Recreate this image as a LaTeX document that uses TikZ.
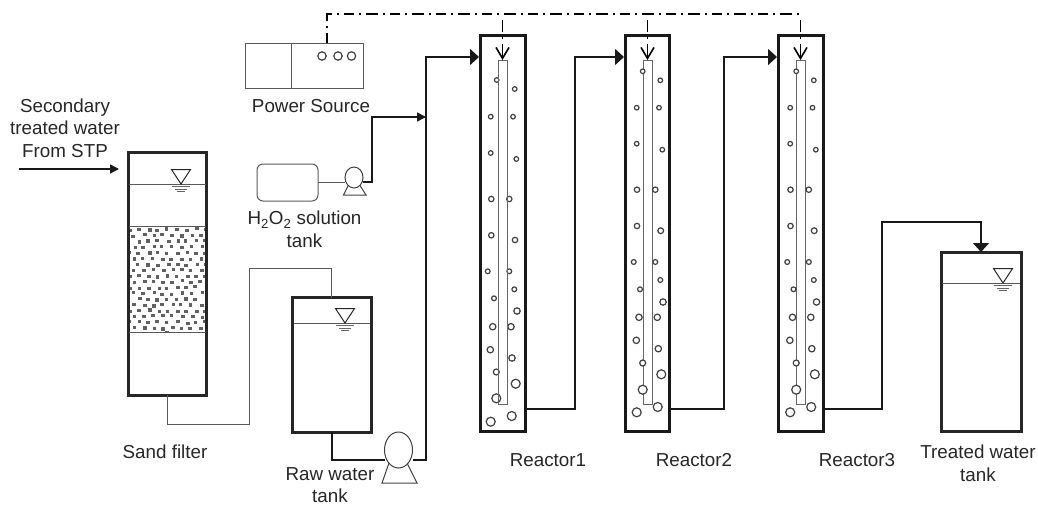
\documentclass[tikz,border=0pt]{standalone}
\usepackage{fontspec}
\setmainfont{Liberation Sans}
\usetikzlibrary{arrows.meta,shapes.geometric}

% bubble offsets shared by reactor 2 and reactor 3
\newcommand{\bubblelist}{642.7/71.3/2.3, 660.3/80.3/2.3, 636.7/107.7/2.3, 659/107.7/2.3, 636.7/143.7/2.3,
    662.3/149.7/2.3, 637/189.7/2.7, 655.3/189.7/2.7, 637/226/2.7, 660.7/230.7/2.9, 633.7/262/2.4,
    655.3/262/2.4, 660.3/280/2.4, 640/289.3/2.4, 663/302/3.2, 639/317.3/3.2, 657.3/317.3/3.2, 636.3/340.3/3.2,
    658.3/348.7/3.2, 642.7/363/3, 661.3/374.3/4.5, 642.7/389.7/4.5, 657.7/407/4.5, 636.7/412.3/4.5}

\begin{document}
\begin{tikzpicture}[
    x=1pt, y=-1pt,
    tank/.style={draw=black!85, rectangle, line width=3pt, minimum width=#1, inner sep=0pt, outer sep=0pt},
    reactor/.style={draw=black!90, rectangle, line width=3pt, minimum width=44.5pt, minimum height=396pt, inner sep=0pt, outer sep=0pt},
    tube/.style={draw=black!60, fill=white, rectangle, line width=1pt, minimum width=9pt, minimum height=344pt, inner sep=0pt, outer sep=0pt},
    thin-box/.style={draw=black!65, rectangle, line width=1pt, inner sep=0pt, outer sep=0pt},
    pump-body/.style={draw=black!75, fill=white, ellipse, line width=1pt, inner sep=0pt, outer sep=0pt},
    pipe/.style={draw=black!90, line width=1.5pt},
    thin-pipe/.style={draw=black!65, line width=1pt},
    feed/.style={pipe, -{Triangle[length=9pt,width=9pt]}},
    inlet/.style={pipe, -{Triangle[length=9pt,width=16pt]}},
    control/.style={draw=black, line width=1.4pt, dash pattern=on 10pt off 5pt on 2pt off 5pt on 12pt off 5pt on 2pt off 5pt},
    control-drop/.style={draw=black, line width=1.6pt, dash pattern=on 0pt off 6pt on 12pt off 5pt on 2pt off 5pt on 20pt off 20pt, -{Straight Barb[length=11pt,width=13pt]}},
    bubble/.style={draw=black!75, line width=1.2pt},
    label/.style={font=\fontsize{18.8}{22.6}\selectfont, text=black!85, align=center, inner sep=0pt}
]
\useasboundingbox (0,0) rectangle (1038,506);

% --- Sand filter ---
\begin{scope}
    \clip (129,226) rectangle (206,332);
    \foreach \row in {0,...,18} {
        \foreach \col in {0,...,8} {
            \pgfmathsetmacro{\px}{126+9.6*\col+4.8*mod(\row,2)+rnd*3}
            \pgfmathsetmacro{\py}{227+5.8*\row+rnd*2}
            \fill[black!62] (\px,\py) rectangle +(3.6,3.2);
        }
    }
\end{scope}
\node[tank=78pt, minimum height=242.5pt] (sand) at (167.5,273.75) {};
\draw[thin-pipe] (129,226) -- (206,226);
\draw[thin-pipe] (129,332) -- (206,332);

% --- Raw water tank ---
\node[tank=78.5pt, minimum height=134.5pt] (raw) at (331.75,364.75) {};

% --- Treated water tank ---
\node[tank=80pt, minimum height=179.5pt] (treated) at (981,341.75) {};

% --- Water levels ---
\draw[thin-pipe] (129,184) -- (206,184);
\draw[thin-pipe] (294,323) -- (370,323);
\draw[thin-pipe] (942,283) -- (1020,283);
\foreach \x/\y in {181/184, 345/323, 1003/283} {
    \draw[draw=black!85, line width=1pt] (\x-9.5,\y-14.5) -- (\x+9.5,\y-14.5) -- (\x,\y) -- cycle;
    \draw[draw=black!60, line width=0.9pt] (\x-9,\y+2.5) -- (\x+9,\y+2.5);
    \draw[draw=black!60, line width=0.9pt] (\x-6,\y+5) -- (\x+6,\y+5);
    \draw[draw=black!60, line width=0.9pt] (\x-4,\y+7.5) -- (\x+4,\y+7.5);
}

% --- Power source ---
\node[thin-box, minimum width=118pt, minimum height=45pt] (power) at (304,65.5) {};
\draw[thin-pipe] (291,43) -- (291,88);
\foreach \x in {322,338,351.5} {
    \draw[bubble] (\x,56) circle (4.2);
}

% --- H2O2 tank and dosing pump ---
\node[thin-box, rounded corners=6pt, minimum width=61pt, minimum height=37pt] (peroxide) at (287.5,182.5) {};
\draw[draw=black!75, line width=1pt] (349,184) -- (343.5,195) -- (366,195) -- (359,184);
\node[pump-body, minimum width=18pt, minimum height=21pt] (dose) at (354,177.5) {};

% --- Raw water pump ---
\draw[draw=black!75, line width=1pt] (389,463) -- (382,483) -- (417,483) -- (407,463);
\node[pump-body, minimum width=28pt, minimum height=36pt] (feedpump) at (398.5,450) {};

% --- Reactor 1 ---
\node[reactor] (r1) at (502.75,233) {};
\foreach \x/\y/\r in {496.7/80/2.3, 514.7/89/2.3, 490.7/116.7/2.3, 513/116.7/2.3, 490.7/153/2.3, 516.3/159/2.3,
    491.3/199/2.7, 509.3/199/2.7, 491.3/235.3/2.7, 515/240/2.7, 487.7/271.3/2.4, 509.3/271.3/2.4,
    514.3/289.3/2.4, 494/298.3/2.4, 517/311/3.2, 492.7/326.7/3.2, 511/326.7/3.2, 490.3/349.7/3.2, 512/358/3.2,
    496.3/372/3, 515.7/383.7/4.5, 496.3/398.3/4.5, 511.7/416/4.5, 490.7/421.7/4.5} {
    \draw[bubble] (\x,\y) circle (\r);
}
\node[tube, fill=none] (t1) at (502.5,232) {};

% --- Reactor 2 ---
\node[reactor] (r2) at (647.25,233) {};
\node[tube] (t2) at (647.5,232) {};
\foreach \x/\y/\r in \bubblelist {
    \draw[bubble, fill=white] (\x,\y) circle (\r);
}

% --- Reactor 3 ---
\node[reactor] (r3) at (800.75,233) {};
\node[tube] (t3) at (800.5,232) {};
\begin{scope}[xshift=153.5pt]
    \foreach \x/\y/\r in \bubblelist {
        \draw[bubble, fill=white] (\x,\y) circle (\r);
    }
\end{scope}

% --- Water lines ---
\coordinate (stp) at (19,169);
\coordinate (sand-in) at (119,169);
\coordinate (s1) at (167.5,424);
\coordinate (s2) at (249,268);
\coordinate (main-in) at (426,57);
\coordinate (junction) at (426,117);
\coordinate (m1) at (331.75,460);
\coordinate (m2) at (426,460);
\coordinate (d1) at (372,182);
\coordinate (c1) at (575,57);
\coordinate (c2) at (724,57);
\coordinate (c3) at (882,222);
\coordinate (r1-out) at (525,409);
\coordinate (r2-out) at (669,409);
\coordinate (r3-out) at (823,409);
\coordinate (r1-in) at (479,57);
\coordinate (r2-in) at (624,57);
\coordinate (r3-in) at (777,57);
\draw[feed] (stp) -- (sand-in);
\draw[thin-pipe] (sand.south) |- (s1) -- (s1 -| s2) -- (s2) -| (raw.north);
\draw[pipe] (raw.south) |- (feedpump.west |- m1);
\draw[inlet] (feedpump.east |- m2) -- (m2) -- (main-in) -- (r1-in);
\draw[thin-pipe] (peroxide.east |- d1) -- (dose.west |- d1);
\draw[feed] (dose.east |- d1) -- (d1) |- (junction);
\draw[inlet] (r1-out) -| (c1) -- (r2-in);
\draw[inlet] (r2-out) -| (c2) -- (r3-in);
\draw[inlet] (r3-out) -| (c3) -| (treated.north);

% --- Control line ---
\coordinate (ctrl) at (327,43);
\coordinate (ctrl-end) at (800.5,14);
\draw[control] (ctrl) |- (ctrl-end);
\draw[control-drop] (t1.north |- ctrl-end) -- (t1.north);
\draw[control-drop] (t2.north |- ctrl-end) -- (t2.north);
\draw[control-drop] (ctrl-end) -- (t3.north);

% --- Labels ---
\node[label] (stp-label) at (65,128) {Secondary\\treated water\\From STP};
\node[label] (power-label) at (311,106) {Power Source};
\node[label] (peroxide-label) at (304.5,229.5) {H\textsubscript{2}O\textsubscript{2} solution\\tank};
\node[label] (sand-label) at (165,452) {Sand filter};
\node[label] (raw-label) at (330,485) {Raw water\\tank};
\node[label] (r1-label) at (548,460) {Reactor1};
\node[label] (r2-label) at (694,460) {Reactor2};
\node[label] (r3-label) at (857,460) {Reactor3};
\node[label] (treated-label) at (978,463) {Treated water\\tank};

\end{tikzpicture}
\end{document}
